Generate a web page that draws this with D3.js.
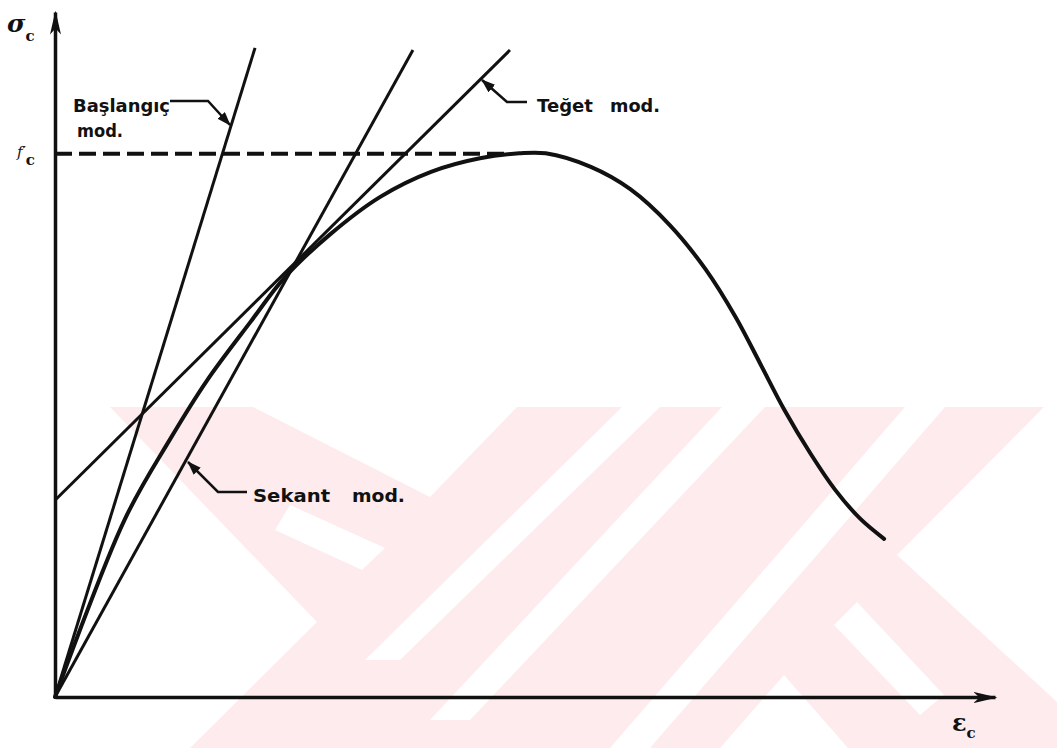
<!DOCTYPE html>
<html>
<head>
<meta charset="utf-8">
<script src="https://cdn.jsdelivr.net/npm/d3@7"></script>
<style>
body { margin: 0; background: #fff; }
</style>
</head>
<body>
<script>
let w = 1057;
let h = 748;

// beton gerilme-birim kısalma eğrisi (strain in per mille, stress as sigma/fc)
let strain = [0, 0.37, 0.61, 0.81, 1.04, 1.22, 1.46, 1.73, 2.00, 2.26, 2.47, 2.61,
              2.85, 3.06, 3.27, 3.46, 3.62, 3.75, 3.88, 4.02, 4.15, 4.28, 4.41];
let stress = [0, 0.326, 0.473, 0.583, 0.690, 0.771, 0.850, 0.920, 0.966, 0.991, 1.0, 1.0,
              0.975, 0.934, 0.868, 0.787, 0.699, 0.614, 0.528, 0.447, 0.381, 0.329, 0.291];

// modulus lines: start / end points
let moduliNames = ["Başlangıç mod.", "Sekant mod.", "Teğet mod."];
let moduliStrain0 = [0, 0, 0];
let moduliStress0 = [0, 0, 0.362];
let moduliStrain1 = [1.064, 1.904, 2.420];
let moduliStress1 = [1.194, 1.190, 1.190];

let fc = 1.0;
let fcDashEnd = 2.40;

let xScale = d3.scaleLinear()
               .domain([0, 5])
               .range([55, 995]);
let yScale = d3.scaleLinear()
               .domain([0, 1.26])
               .range([697, 12]);

let svg = d3.select("body")
            .append("svg")
            .attr("width", w)
            .attr("height", h);

let defs = svg.append("defs");
defs.append("marker")
    .attr("id", "axisArrow")
    .attr("viewBox", "0 0 24 12")
    .attr("refX", 22)
    .attr("refY", 6)
    .attr("markerWidth", 24)
    .attr("markerHeight", 12)
    .attr("markerUnits", "userSpaceOnUse")
    .attr("orient", "auto")
    .append("path")
    .attr("d", "M0,0.5 L24,6 L0,11.5 L6,6 Z")
    .attr("fill", "#111");
defs.append("marker")
    .attr("id", "leaderArrow")
    .attr("viewBox", "0 0 14 10")
    .attr("refX", 13)
    .attr("refY", 5)
    .attr("markerWidth", 14)
    .attr("markerHeight", 10)
    .attr("markerUnits", "userSpaceOnUse")
    .attr("orient", "auto")
    .append("path")
    .attr("d", "M0,0 L14,5 L0,10 Z")
    .attr("fill", "#111");

// watermark in the scan (light pink bands)
let wm = svg.append("g");
wm.append("polygon")
  .attr("points", "110,407 1044,407 897,555 1057,702 1057,748 190,748 317,622")
  .attr("fill", "#fdebee");
let wmWhite = [
    "253,407 517,407 430,497",
    "290,505 385,548 362,570 275,530",
    "622,407 660,407 400,660 365,660",
    "722,407 765,407 470,720 430,720",
    "905,407 945,407 650,748 610,748",
    "784,675 720,748 848,748",
    "834,625 857,602 944,695 920,715"
];
wm.selectAll(".gap")
  .data(wmWhite)
  .enter()
  .append("polygon")
  .attr("class", "gap")
  .attr("points", function(d) { return d; })
  .attr("fill", "#fff");

// axes
let xAxis = svg.append("g")
               .attr("transform", "translate(0," + yScale(0) + ")")
               .call(d3.axisBottom(xScale).tickValues([]).tickSizeOuter(0));
xAxis.select(".domain")
     .attr("stroke", "#111")
     .attr("stroke-width", 3.5)
     .attr("marker-end", "url(#axisArrow)");

let yAxis = svg.append("g")
               .attr("transform", "translate(" + xScale(0) + ",0)")
               .call(d3.axisLeft(yScale)
                       .tickValues([fc])
                       .tickSizeOuter(0)
                       .tickSizeInner(-(xScale(fcDashEnd) - xScale(0)))
                       .tickPadding(20));
yAxis.select(".domain")
     .attr("stroke", "#111")
     .attr("stroke-width", 3.5)
     .attr("marker-end", "url(#axisArrow)");
yAxis.selectAll(".tick line")
     .attr("stroke", "#111")
     .attr("stroke-width", 4)
     .attr("stroke-dasharray", "17 7");
let fcText = yAxis.selectAll(".tick text")
                  .text(null)
                  .attr("fill", "#111")
                  .attr("font-family", "DejaVu Serif, serif");
fcText.append("tspan")
      .attr("font-size", "15px")
      .attr("font-style", "italic")
      .text("f′");
fcText.append("tspan")
      .attr("font-size", "15px")
      .attr("font-weight", "bold")
      .attr("dy", "0.55em")
      .text("c");

// modulus lines
svg.selectAll(".modulus")
   .data(moduliNames)
   .enter()
   .append("line")
   .attr("class", "modulus")
   .attr("x1", function(d, i) { return xScale(moduliStrain0[i]); })
   .attr("y1", function(d, i) { return yScale(moduliStress0[i]); })
   .attr("x2", function(d, i) { return xScale(moduliStrain1[i]); })
   .attr("y2", function(d, i) { return yScale(moduliStress1[i]); })
   .attr("stroke", "#111")
   .attr("stroke-width", 3);

// stress-strain curve
let line = d3.line()
             .x(function(d, i) { return xScale(strain[i]); })
             .y(function(d, i) { return yScale(stress[i]); })
             .curve(d3.curveCatmullRom.alpha(0.5));
svg.append("path")
   .attr("d", line(strain))
   .attr("fill", "none")
   .attr("stroke", "#111")
   .attr("stroke-width", 4)
   .attr("stroke-linecap", "round");

// labels with leader lines
let labels = [
    { words: ["Başlangıç", "mod."], x: [73, 77], y: [112, 137], len: [97, 46],
      leader: "M170,101 H208 L230,125" },
    { words: ["Sekant", "mod."], x: [253, 352], y: [502, 502], len: [77, 53],
      leader: "M247,492 H218 L188,462" },
    { words: ["Teğet", "mod."], x: [537, 610], y: [112, 112], len: [56, 50],
      leader: "M527,102 H507 L482,80" }
];
labels.forEach(function(lb) {
    lb.words.forEach(function(word, j) {
        svg.append("text")
           .attr("x", lb.x[j])
           .attr("y", lb.y[j])
           .attr("textLength", lb.len[j])
           .attr("lengthAdjust", "spacingAndGlyphs")
           .attr("font-family", "DejaVu Sans, sans-serif")
           .attr("font-weight", "bold")
           .attr("font-size", "17px")
           .attr("fill", "#111")
           .text(word);
    });
    svg.append("path")
       .attr("d", lb.leader)
       .attr("fill", "none")
       .attr("stroke", "#111")
       .attr("stroke-width", 2.5)
       .attr("marker-end", "url(#leaderArrow)");
});

// axis titles
let yTitle = svg.append("text")
                .attr("x", 7)
                .attr("y", 32)
                .attr("font-family", "DejaVu Serif, serif")
                .attr("font-weight", "bold")
                .attr("fill", "#111");
yTitle.append("tspan").attr("font-size", "25px").attr("font-style", "italic").text("σ");
yTitle.append("tspan").attr("font-size", "15px").attr("dy", "9").text("c");

let xTitle = svg.append("text")
                .attr("x", 952)
                .attr("y", 731)
                .attr("font-family", "DejaVu Serif, serif")
                .attr("font-weight", "bold")
                .attr("fill", "#111");
xTitle.append("tspan").attr("font-size", "24px").text("ε");
xTitle.append("tspan").attr("font-size", "15px").attr("dy", "7").text("c");
</script>
</body>
</html>
